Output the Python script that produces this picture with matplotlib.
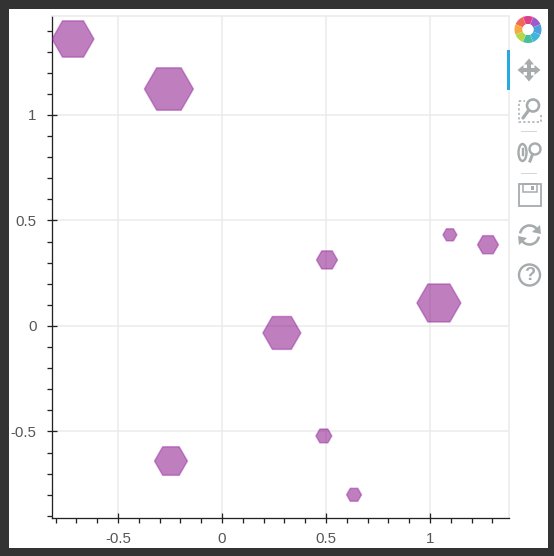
import numpy as np
import matplotlib
matplotlib.use('Agg')
import matplotlib.pyplot as plt
from matplotlib.patches import Rectangle, Wedge, Circle, Ellipse, Arc, Polygon
from matplotlib.ticker import MultipleLocator, FixedLocator, FixedFormatter

plt.rcParams['font.family'] = ['Liberation Sans', 'DejaVu Sans']

# values
xVals = [-0.716, -0.255, 0.505, 1.096, 1.279, 1.043, 0.288, 0.490, -0.245, 0.635]
yVals = [1.360, 1.123, 0.313, 0.432, 0.385, 0.109, -0.033, -0.521, -0.640, -0.800]
sizes = [42, 49, 21, 14, 21, 44, 38, 16, 33, 15]  # width in pixels

xTicks = [-0.5, 0, 0.5, 1]
xTickLabels = ['-0.5', '0', '0.5', '1']
yTicks = [-0.5, 0, 0.5, 1]
yTickLabels = ['-0.5', '0', '0.5', '1']

W, H = 554, 556
dpi = 100
px = 72.0 / dpi  # one pixel in points
fillColor = (0.5, 0.0, 0.5, 0.5)
edgeColor = (0.55, 0.1, 0.6, 0.4)
gridColor = '#ebebeb'
iconColor = '#a6abad'

fig = plt.figure(figsize=(W / dpi, H / dpi), dpi=dpi, facecolor='#333333')

# Page background and toolbar, in pixel coordinates
bg = fig.add_axes([0, 0, 1, 1], zorder=0)
bg.set_xlim(0, W)
bg.set_ylim(H, 0)
bg.axis('off')
bg.add_patch(Rectangle((9, 9), 539, 539, fc='white', ec='none'))

# Plot area
left, right, top, bottom = 52, 509, 16, 518
ax = fig.add_axes([left / W, 1 - bottom / H, (right - left) / W, (bottom - top) / H], zorder=1)
ax.patch.set_alpha(0)
ax.set_xlim(-0.817, 1.38)
ax.set_ylim(-0.91, 1.469)

ax.scatter(xVals, yVals, s=[(s * px) ** 2 for s in sizes], marker='H',
           facecolor=fillColor, edgecolor=edgeColor, linewidth=1.5 * px, zorder=3)

ax.xaxis.set_major_locator(FixedLocator(xTicks))
ax.xaxis.set_major_formatter(FixedFormatter(xTickLabels))
ax.yaxis.set_major_locator(FixedLocator(yTicks))
ax.yaxis.set_major_formatter(FixedFormatter(yTickLabels))
ax.xaxis.set_minor_locator(MultipleLocator(0.1))
ax.yaxis.set_minor_locator(MultipleLocator(0.1))
ax.grid(True, which='major', color=gridColor, linewidth=1.5 * px, zorder=1)
ax.set_axisbelow(True)

for side in ['top', 'right']:
    ax.spines[side].set_color(gridColor)
    ax.spines[side].set_linewidth(1.5 * px)
for side in ['left', 'bottom']:
    ax.spines[side].set_color('#222222')
    ax.spines[side].set_linewidth(1.3 * px)

ax.tick_params(which='major', direction='inout', length=10 * px, width=1.3 * px, color='#222222',
               labelsize=10.8, labelcolor='#555555')
ax.tick_params(axis='x', which='major', pad=6.5)
ax.tick_params(axis='y', which='major', pad=7.5)
ax.tick_params(which='minor', direction='out', length=5 * px, width=1.3 * px, color='#222222')

# Toolbar
# active tool marker sits over the plot outline, so it goes on the figure
fig.add_artist(Rectangle((507 / W, 1 - 90 / H), 2.5 / W, 40 / H, transform=fig.transFigure,
                         fc='#26aae1', ec='none', zorder=5))

# logo, eight petals clockwise from the top
logoColors = ['#27b38c', '#1fa9d8', '#2b8fd8', '#8a3fc0', '#d81f78', '#f0503a', '#f79a1e', '#a8d02c']
for i, c in enumerate(logoColors):
    a = 90 - i * 45
    bg.add_patch(Wedge((528, 29.5), 13.5, a - 22, a + 22, width=8, fc=c, ec='none', alpha=0.85))
bg.add_patch(Circle((528, 29.5), 5.5, fc='white', ec='none'))

# pan
bg.plot([521, 537], [70, 70], color=iconColor, lw=4 * px, solid_capstyle='butt')
bg.plot([529, 529], [62, 78], color=iconColor, lw=4 * px, solid_capstyle='butt')
for pts in [[(529, 58.5), (524, 64.5), (534, 64.5)], [(529, 81.5), (524, 75.5), (534, 75.5)],
            [(517.5, 70), (523.5, 65), (523.5, 75)], [(540.5, 70), (534.5, 65), (534.5, 75)]]:
    bg.add_patch(Polygon(pts, fc=iconColor, ec='none'))

# box zoom
bg.add_patch(Rectangle((518.5, 100.5), 22, 21, fc='none', ec=iconColor, lw=1.5 * px, ls=(0, (1.5, 1.5))))
bg.add_patch(Rectangle((525, 97), 18, 17, fc='white', ec='none'))
bg.add_patch(Circle((533, 105.5), 6, fc='white', ec=iconColor, lw=2.6 * px))
bg.plot([528.5, 523], [110.5, 118], color=iconColor, lw=3.2 * px, solid_capstyle='round')

# separators
bg.plot([521, 536], [131, 131], color='#d5d5d5', lw=1 * px)
bg.plot([521, 536], [173, 173], color='#d5d5d5', lw=1 * px)

# wheel zoom
bg.add_patch(Ellipse((522.5, 152.5), 8, 17, fc='none', ec=iconColor, lw=2.4 * px))
bg.plot([522.5, 522.5], [149, 155], color=iconColor, lw=2.4 * px)
bg.add_patch(Circle((535, 149), 5.5, fc='none', ec=iconColor, lw=2.4 * px))
bg.plot([532.5, 530], [154.5, 161], color=iconColor, lw=3 * px)

# save
bg.add_patch(Rectangle((518.5, 184), 22, 21.5, fc='none', ec=iconColor, lw=1.8 * px))
bg.add_patch(Rectangle((523, 184), 13.5, 8, fc='none', ec=iconColor, lw=1.5 * px))
bg.add_patch(Rectangle((531, 185.5), 2.5, 4, fc=iconColor, ec='none'))

# reset
bg.add_patch(Arc((529.5, 235), 19, 19, theta1=190, theta2=330, ec=iconColor, lw=2.6 * px))
bg.add_patch(Arc((529.5, 235), 19, 19, theta1=10, theta2=150, ec=iconColor, lw=2.6 * px))
bg.add_patch(Polygon([(540, 225), (541, 234), (532, 232)], fc=iconColor, ec='none'))
bg.add_patch(Polygon([(519, 245), (518, 236), (527, 238)], fc=iconColor, ec='none'))

# help
bg.add_patch(Circle((529.5, 275), 10.5, fc='none', ec=iconColor, lw=2.4 * px))
bg.text(529.5, 275.5, '?', color=iconColor, fontsize=13, fontweight='bold', ha='center', va='center')

fig.savefig('out.png', dpi=dpi, facecolor=fig.get_facecolor())
